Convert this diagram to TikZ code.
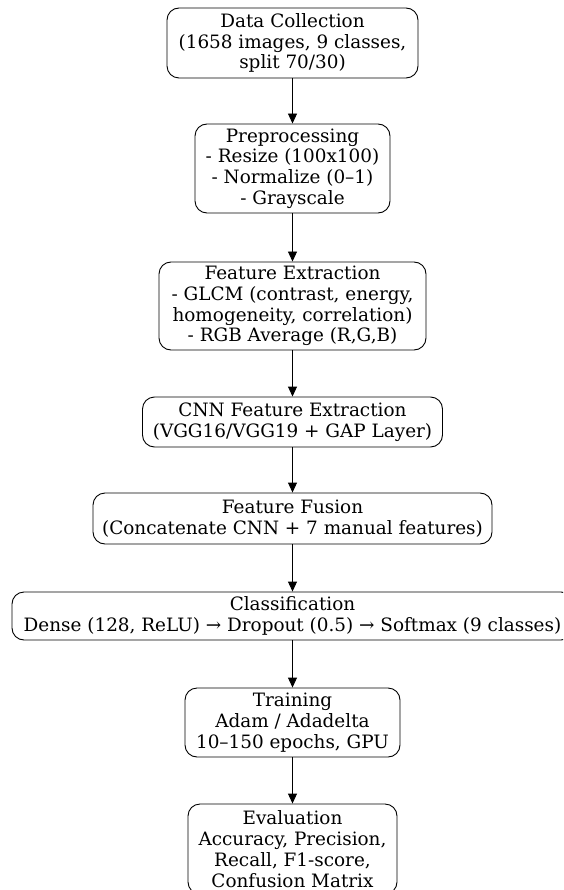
\documentclass[tikz,border=0pt]{standalone}
\usepackage{fontspec}
\setmainfont{DejaVu Serif}
\usetikzlibrary{arrows.meta, positioning}
\tikzstyle{stage} = [draw, line width=0.9pt, rounded corners=12pt, align=center, inner sep=0pt, font=\fontsize{18.4}{20.8}\selectfont]
\tikzstyle{flow} = [line width=0.9pt, -{Triangle[length=10pt, width=9pt]}]

\begin{document}
\begin{tikzpicture}[x=1pt, y=-1pt]
                \useasboundingbox (0,0) rectangle (563,890);
                \clip (0,0) rectangle (563,890);

                % Input and preprocessing
                \node[stage, minimum width=251pt, minimum height=70pt] (collect) at (292.5,43)
                    {Data Collection\\(1658 images, 9 classes,\\split 70/30)};
                \node[stage, minimum width=195pt, minimum height=89pt] (prep) at (292.5,168.5)
                    {Preprocessing\\- Resize (100x100)\\- Normalize (0--1)\\- Grayscale};

                % Features
                \node[stage, minimum width=267pt, minimum height=88pt] (manual) at (292.5,306)
                    {Feature Extraction\\- GLCM (contrast, energy,\\homogeneity, correlation)\\- RGB Average (R,G,B)};
                \node[stage, minimum width=300pt, minimum height=50pt] (cnn) at (292.5,422)
                    {CNN Feature Extraction\\(VGG16/VGG19 + GAP Layer)};
                \node[stage, minimum width=399pt, minimum height=51pt] (fusion) at (292.5,518.5)
                    {Feature Fusion\\(Concatenate CNN + 7 manual features)};

                % Model
                \node[stage, minimum width=561pt, minimum height=48pt] (classify) at (292.5,616)
                    {Classification\\Dense (128, ReLU) → Dropout (0.5) → Softmax (9 classes)};
                \node[stage, minimum width=215pt, minimum height=69pt] (train) at (292.5,722.5)
                    {Training\\Adam / Adadelta\\10--150 epochs, GPU};
                \node[stage, minimum width=209pt, minimum height=90pt] (eval) at (292.5,849)
                    {Evaluation\\Accuracy, Precision,\\Recall, F1-score,\\Confusion Matrix};

                % Flow
                \draw[flow] (collect) -- (prep);
                \draw[flow] (prep) -- (manual);
                \draw[flow] (manual) -- (cnn);
                \draw[flow] (cnn) -- (fusion);
                \draw[flow] (fusion) -- (classify);
                \draw[flow] (classify) -- (train);
                \draw[flow] (train) -- (eval);
            \end{tikzpicture}
\end{document}
